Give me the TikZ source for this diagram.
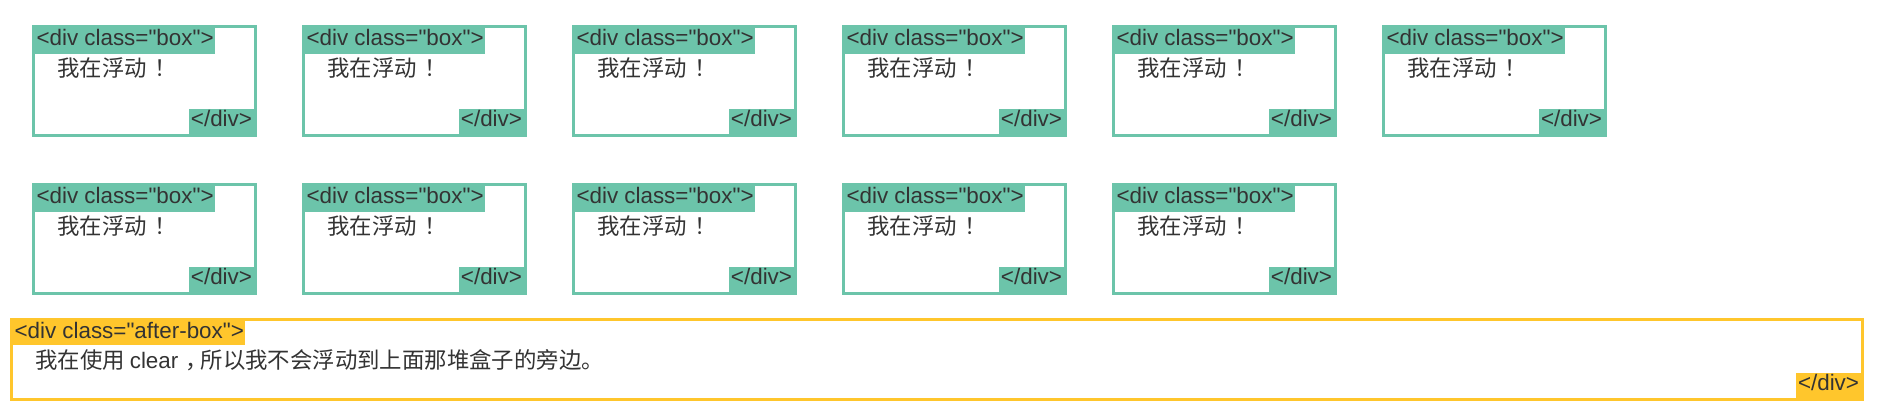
\documentclass[tikz,border=0pt]{standalone}
\usepackage{fontspec}
\newfontfamily\latin{Liberation Sans}
\newfontfamily\cjk{Noto Sans CJK SC}
\usetikzlibrary{calc}
\definecolor{boxgreen}{RGB}{108,196,170}
\definecolor{afteryellow}{RGB}{255,198,44}
\definecolor{txtgray}{RGB}{51,51,51}
\newcommand{\fwbang}{\hspace{8pt}！}
\newcommand{\fwcomma}{\hspace{7pt}，\hspace{-7pt}}
\begin{document}
\begin{tikzpicture}[x=1pt,y=-1pt,
  font=\fontsize{22.4}{26}\latin, text=txtgray,
  floatbox/.style={draw=boxgreen, line width=3pt, minimum width=222pt, minimum height=109pt, inner sep=0pt, outer sep=0pt},
  afterbox/.style={draw=afteryellow, line width=3pt, minimum width=1851pt, minimum height=80pt, inner sep=0pt, outer sep=0pt},
  opentag/.style={anchor=north west, inner xsep=1.5pt, inner ysep=0pt, text height=17.5pt, text depth=8.5pt, outer sep=0pt},
  closetag/.style={anchor=south east, inner xsep=2pt, inner ysep=0pt, text height=17.5pt, text depth=7.5pt, outer sep=0pt},
  content/.style={anchor=base west, inner sep=0pt, font=\fontsize{22.4}{26}\cjk}]
\useasboundingbox[fill=white] (0,0) rectangle (1881,418);
% first row
\foreach \c in {0,...,5} {
  \node[floatbox] (a\c) at (144.5+270*\c, 81) {};
  \node[opentag, fill=boxgreen] (a\c-open) at ($(a\c.north west)+(1.5,1.5)$) {<div class="box">};
  \node[content] (a\c-text) at ($(a\c.north west)+(23.5,49.5)$) {我在浮动\fwbang};
  \node[closetag, fill=boxgreen] (a\c-close) at ($(a\c.south east)+(-1.5,-1.5)$) {</div>};
}
% second row
\foreach \c in {0,...,4} {
  \node[floatbox] (b\c) at (144.5+270*\c, 239) {};
  \node[opentag, fill=boxgreen] (b\c-open) at ($(b\c.north west)+(1.5,1.5)$) {<div class="box">};
  \node[content] (b\c-text) at ($(b\c.north west)+(23.5,49.5)$) {我在浮动\fwbang};
  \node[closetag, fill=boxgreen] (b\c-close) at ($(b\c.south east)+(-1.5,-1.5)$) {</div>};
}
% after box
\node[afterbox] (after) at (937, 359.5) {};
\node[opentag, fill=afteryellow, text depth=6.5pt] (after-open) at ($(after.north west)+(1.5,1.5)$) {<div class="after-box">};
\node[content] (after-text) at ($(after.north west)+(23.5,48.5)$) {我在使用 {\latin clear}\fwcomma 所以我不会浮动到上面那堆盒子的旁边。};
\node[closetag, fill=afteryellow] (after-close) at ($(after.south east)+(-1.5,-1.5)$) {</div>};
\end{tikzpicture}
\end{document}
